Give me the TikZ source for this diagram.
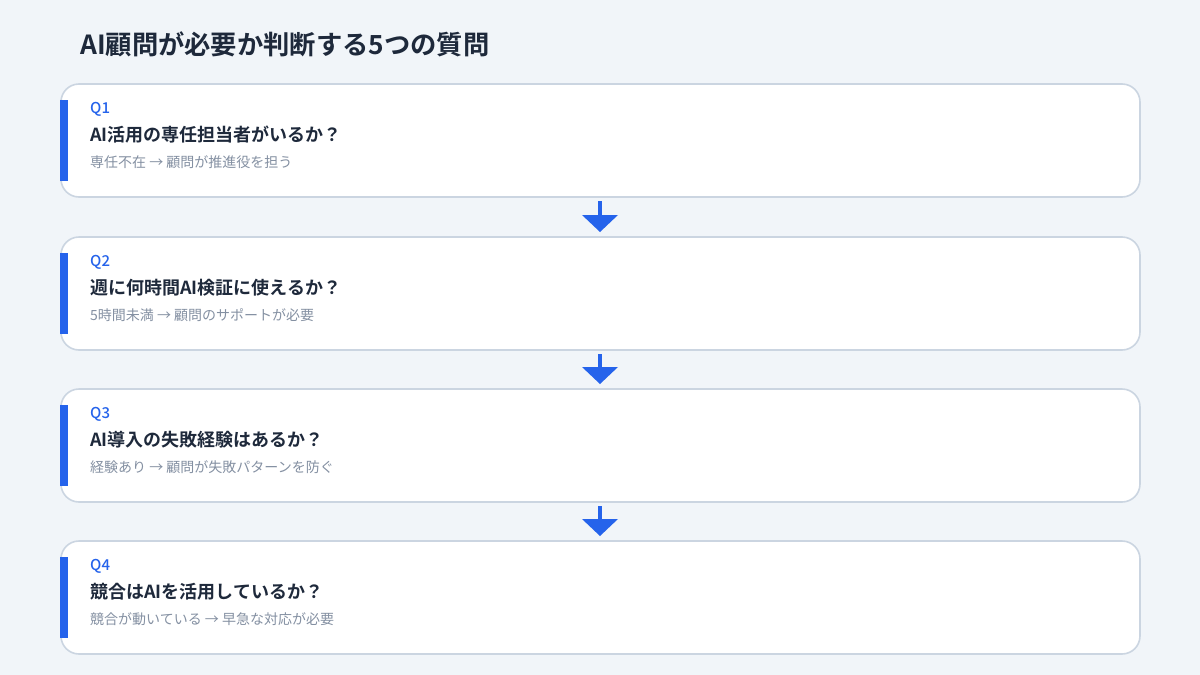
\documentclass[tikz,border=0pt]{standalone}
\usepackage{fontspec}
\setmainfont{Noto Sans CJK JP}
\newfontfamily\cjkb{Noto Sans CJK JP Bold}
\newfontfamily\cjkm{Noto Sans CJK JP Medium}
\usetikzlibrary{calc}
\definecolor{bg}{HTML}{F1F5F9}
\definecolor{cardborder}{HTML}{CBD5E1}
\definecolor{accent}{HTML}{2563EB}
\definecolor{ink}{HTML}{1E293B}
\definecolor{muted}{HTML}{8490A2}
\tikzset{
  card/.style={draw=cardborder, line width=1.6pt, fill=white, rounded corners=18pt},
  bar/.style={fill=accent, draw=none},
  qlabel/.style={anchor=west, text=accent, font=\cjkm\fontsize{15}{17}\selectfont, inner sep=0pt},
  qtitle/.style={anchor=west, text=ink, font=\cjkb\fontsize{18}{20}\selectfont, inner sep=0pt},
  qsub/.style={anchor=west, text=muted, font=\fontsize{14}{16}\selectfont, inner sep=0pt},
  flowarrow/.style={draw=accent, line width=3.5pt},
  arrowhead/.style={fill=accent, draw=none},
}
\begin{document}
\begin{tikzpicture}[x=1pt,y=-1pt]
\fill[bg] (0,0) rectangle (1200,675);
\useasboundingbox (0,0) rectangle (1200,675);
\node[anchor=west, text=ink, font=\cjkb\fontsize{26.3}{30}\selectfont, inner sep=0pt] (title) at (80,44) {AI顧問が必要か判断する5つの質問};

\foreach \i/\top/\q/\t/\s in {
  1/84/Q1/AI活用の専任担当者がいるか？/専任不在 → 顧問が推進役を担う,
  2/237/Q2/週に何時間AI検証に使えるか？/5時間未満 → 顧問のサポートが必要,
  3/389/Q3/AI導入の失敗経験はあるか？/経験あり → 顧問が失敗パターンを防ぐ,
  4/541/Q4/競合はAIを活用しているか？/競合が動いている → 早急な対応が必要}{
  \draw[card] (61,\top) rectangle (1140,\top+113);
  \coordinate (card\i) at (600,\top);
  \coordinate (cardb\i) at (600,\top+113);
  \fill[bar] (60,\top+16) rectangle (68,\top+97);
  \node[qlabel] (ql\i) at (90,\top+25) {\q};
  \node[qtitle] (qt\i) at (90,\top+51) {\t};
  \node[qsub] (qs\i) at (90,\top+78) {\s};
}
\foreach \a/\b in {1/2,2/3,3/4}{
  \coordinate (s\a) at ($(cardb\a)+(0,4)$);
  \coordinate (h\a) at ($(card\b)+(0,-5)$);
  \draw[flowarrow] (s\a) -- ($(h\a)+(0,-14)$);
  \fill[arrowhead] ($(h\a)+(-18,-17)$) -- ($(h\a)+(18,-17)$) -- (h\a) -- cycle;
}
\end{tikzpicture}
\end{document}
